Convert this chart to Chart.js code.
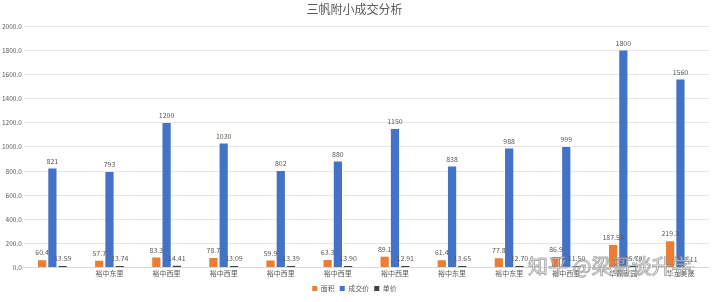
<!DOCTYPE html>
<html>
<head>
<meta charset="utf-8">
<script src="https://cdn.jsdelivr.net/npm/chart.js@4/dist/chart.umd.min.js"></script>
<style>
  html, body { margin: 0; padding: 0; background: #fff; }
  #wrap { position: relative; width: 720px; height: 302px; }
</style>
</head>
<body>
<div id="wrap"><canvas id="myChart" width="720" height="302"></canvas></div>
<script>
const categories = ['', '裕中东里', '裕中西里', '裕中西里', '裕中西里', '裕中西里', '裕中西里', '裕中东里', '裕中东里', '裕中西里', '华鼎家园', '华龙美晟'];
const area = [60.4, 57.7, 83.3, 78.7, 59.9, 63.3, 89.1, 61.4, 77.8, 86.9, 187.55, 219.3];
const price = [821, 793, 1200, 1030, 802, 880, 1150, 838, 988, 999, 1800, 1560];
const unitPrice = [13.59, 13.74, 14.41, 13.09, 13.39, 13.90, 12.91, 13.65, 12.70, 11.50, 15.70, 7.11];
const yTicks = [0, 200, 400, 600, 800, 1000, 1200, 1400, 1600, 1800, 2000];

const font = 'Noto Sans CJK SC, "Noto Sans", sans-serif';

// draw the value above each bar
const valueLabels = {
  id: 'valueLabels',
  afterDatasetsDraw(chart) {
    const ctx = chart.ctx;
    ctx.save();
    ctx.font = '7px ' + font;
    ctx.fillStyle = '#595959';
    ctx.textAlign = 'center';
    ctx.textBaseline = 'bottom';
    chart.data.datasets.forEach((ds, di) => {
      const meta = chart.getDatasetMeta(di);
      meta.data.forEach((bar, i) => {
        const v = ds.data[i];
        const txt = di === 2 ? v.toFixed(2) : String(v);
        ctx.fillText(txt, bar.x, bar.y - 4);
      });
    });
    ctx.restore();
  }
};

const watermark = {
  id: 'watermark',
  afterDraw(chart) {
    const ctx = chart.ctx;
    ctx.save();
    ctx.font = '20px ' + font;
    ctx.textAlign = 'left';
    ctx.textBaseline = 'middle';
    ctx.lineWidth = 1;
    ctx.strokeStyle = 'rgba(120,120,120,0.6)';
    ctx.fillStyle = 'rgba(255,255,255,0.6)';
    ctx.fillText('知乎 @梁哥谈升学', 528, 266);
    ctx.strokeText('知乎 @梁哥谈升学', 528, 266);
    ctx.restore();
  }
};

const data = {
  labels: categories,
  datasets: [
    { label: '面积', data: area, backgroundColor: '#ED7D31' },
    { label: '成交价', data: price, backgroundColor: '#4472C4' },
    { label: '单价', data: unitPrice, backgroundColor: '#404040' },
  ],
};

const config = {
  type: 'bar',
  data,
  options: {
    responsive: false,
    animation: false,
    layout: { padding: { left: 0, right: 11, top: 0, bottom: 0 } },
    datasets: {
      bar: { categoryPercentage: 0.54, barPercentage: 0.8 },
    },
    scales: {
      x: {
        grid: { display: false, drawTicks: false },
        border: { color: '#d9d9d9' },
        ticks: { color: '#595959', font: { size: 7, family: font }, maxRotation: 0, autoSkip: false, padding: 2 },
      },
      y: {
        min: 0,
        max: 2000,
        afterBuildTicks(axis) { axis.ticks = yTicks.map((v) => ({ value: v })); },
        grid: { color: '#e6e6e6', drawTicks: false },
        border: { display: false },
        ticks: { color: '#595959', font: { size: 6.5, family: font }, padding: 2, callback: (v) => Number(v).toFixed(1) },
      },
    },
    plugins: {
      title: {
        display: true,
        text: '三帆附小成交分析',
        color: '#595959',
        font: { size: 12, weight: 'normal', family: font },
        padding: { top: 2, bottom: 10 },
      },
      legend: {
        position: 'bottom',
        labels: { color: '#595959', font: { size: 7, family: font }, boxWidth: 5, boxHeight: 5, padding: 5 },
      },
      tooltip: { enabled: false },
    },
  },
  plugins: [valueLabels, watermark],
};

const myChart = new Chart(document.getElementById('myChart'), config);
</script>
</body>
</html>
